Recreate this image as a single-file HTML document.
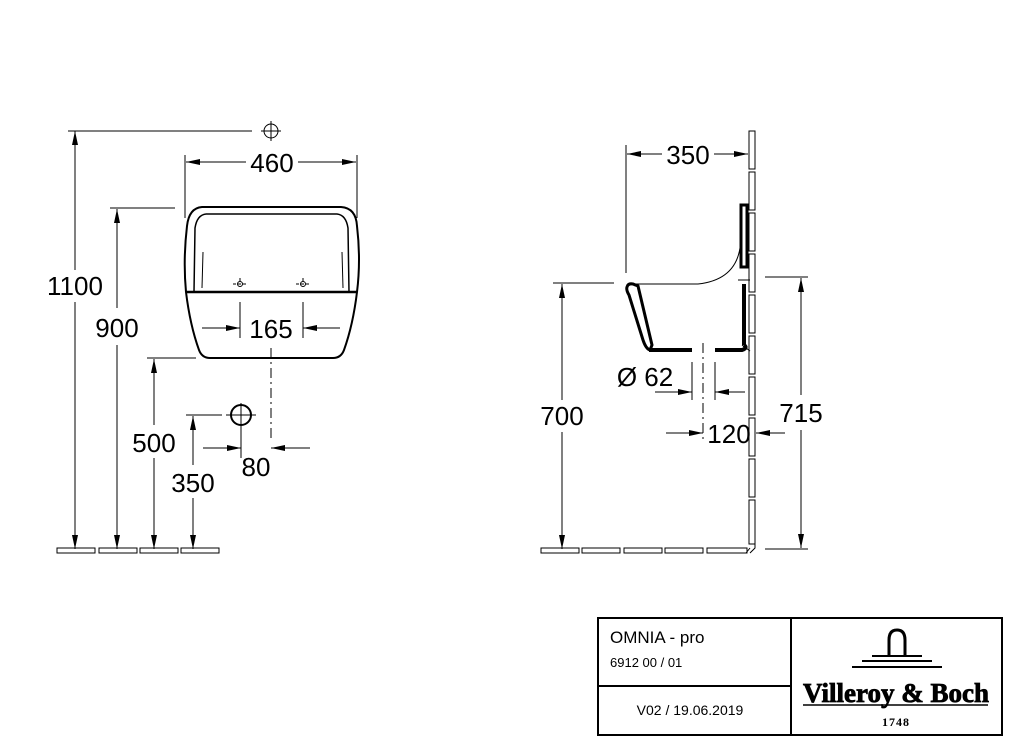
<!DOCTYPE html>
<html><head><meta charset="utf-8"><style>
html,body{margin:0;padding:0;background:#fff;}
svg{display:block;}
text{font-family:"Liberation Sans",Arial,sans-serif;fill:#000;}
</style></head><body>
<svg width="1015" height="749" viewBox="0 0 1015 749" xmlns="http://www.w3.org/2000/svg">
<defs>
<marker id="a" viewBox="0 0 14 6" refX="14" refY="3" markerWidth="14" markerHeight="6" markerUnits="userSpaceOnUse" orient="auto"><path d="M0,0 L14,3 L0,6 z" fill="#000"/></marker>
</defs>
<g stroke="#000" stroke-width="1" fill="none">
<!-- LEFT VIEW -->
<line x1="68" y1="131" x2="252" y2="131"/>
<circle cx="271" cy="131" r="7"/><line x1="261" y1="131" x2="281" y2="131"/><line x1="271" y1="121" x2="271" y2="141"/>
<line x1="75" y1="270" x2="75" y2="131" marker-end="url(#a)"/>
<line x1="75" y1="302" x2="75" y2="549" marker-end="url(#a)"/>
<!-- 460 -->
<line x1="185" y1="155" x2="185" y2="218"/><line x1="357" y1="155" x2="357" y2="218"/>
<line x1="246" y1="162" x2="186" y2="162" marker-end="url(#a)"/>
<line x1="298" y1="162" x2="356" y2="162" marker-end="url(#a)"/>
<!-- urinal front -->
<path d="M202,207 L341,207 Q356,208 357,226 Q361,260 357,292 Q353,325 344,350 Q341,358 333,358 L210,358 Q202,358 199,350 Q190,325 186,292 Q183,260 187,226 Q189,208 202,207 Z" stroke-width="2"/>
<path d="M206,214 L337,214 Q346,215 348,228 L349,292 M194,292 L195,228 Q197,215 206,214" stroke-width="1.5"/>
<line x1="203" y1="252" x2="202" y2="288"/><line x1="342" y1="252" x2="343" y2="288"/>
<line x1="186" y1="292" x2="357" y2="292" stroke-width="2.5"/>
<circle cx="240" cy="284" r="2.5"/><line x1="233" y1="284" x2="247" y2="284" stroke-dasharray="3,2"/><line x1="240" y1="278" x2="240" y2="281"/>
<circle cx="303" cy="284" r="2.5"/><line x1="296" y1="284" x2="310" y2="284" stroke-dasharray="3,2"/><line x1="303" y1="278" x2="303" y2="281"/>
<!-- 165 -->
<line x1="240" y1="302" x2="240" y2="338"/><line x1="303" y1="302" x2="303" y2="338"/>
<line x1="202" y1="328" x2="240" y2="328" marker-end="url(#a)"/>
<line x1="340" y1="328" x2="303" y2="328" marker-end="url(#a)"/>
<line x1="271" y1="348" x2="271" y2="440" stroke-dasharray="10,4,2,4"/>
<!-- 900 -->
<line x1="110" y1="208" x2="175" y2="208"/>
<line x1="117" y1="308" x2="117" y2="209" marker-end="url(#a)"/>
<line x1="117" y1="345" x2="117" y2="549" marker-end="url(#a)"/>
<!-- 500 -->
<line x1="147" y1="358" x2="196" y2="358"/>
<line x1="154" y1="425" x2="154" y2="359" marker-end="url(#a)"/>
<line x1="154" y1="458" x2="154" y2="549" marker-end="url(#a)"/>
<!-- 350 -->
<line x1="186" y1="415" x2="222" y2="415"/><line x1="226" y1="415" x2="256" y2="415"/>
<circle cx="241" cy="415" r="10" stroke-width="2"/><line x1="241" y1="403" x2="241" y2="428"/>
<line x1="193" y1="465" x2="193" y2="416" marker-end="url(#a)"/>
<line x1="193" y1="498" x2="193" y2="549" marker-end="url(#a)"/>
<!-- 80 -->
<line x1="241" y1="428" x2="241" y2="458"/>
<line x1="203" y1="448" x2="241" y2="448" marker-end="url(#a)"/>
<line x1="310" y1="448" x2="271" y2="448" marker-end="url(#a)"/>
<!-- floor tiles left -->
<rect x="57" y="548" width="38" height="5"/><rect x="99" y="548" width="38" height="5"/><rect x="140" y="548" width="38" height="5"/><rect x="181" y="548" width="38" height="5"/>

<!-- RIGHT VIEW -->
<rect x="749" y="131" width="6" height="38"/><rect x="749" y="172" width="6" height="38"/><rect x="749" y="213" width="6" height="38"/><rect x="749" y="254" width="6" height="38"/><rect x="749" y="295" width="6" height="38"/><rect x="749" y="336" width="6" height="38"/><rect x="749" y="377" width="6" height="38"/><rect x="749" y="418" width="6" height="38"/><rect x="749" y="459" width="6" height="38"/><rect x="749" y="500" width="6" height="44"/>
<path d="M755,544 L755,548 L750,553 M750,548 L746,553"/>
<rect x="541" y="548" width="38" height="5"/><rect x="582" y="548" width="38" height="5"/><rect x="624" y="548" width="38" height="5"/><rect x="665" y="548" width="38" height="5"/><rect x="707" y="548" width="40" height="5"/>
<!-- 350 -->
<line x1="626" y1="145" x2="626" y2="273"/>
<line x1="662" y1="154" x2="627" y2="154" marker-end="url(#a)"/>
<line x1="714" y1="154" x2="748" y2="154" marker-end="url(#a)"/>
<!-- urinal side -->
<rect x="741" y="205" width="6" height="62" stroke-width="3"/>
<line x1="744" y1="284" x2="744" y2="345" stroke-width="4"/>
<line x1="738" y1="280" x2="750" y2="280"/>
<path d="M634,284 L698,284 Q735,280 740,248"/>
<path d="M627,287 Q628,283 633,284 L638,286 L652,345 L650,350 Q646,349 643,340 L629,295 Q626,290 627,287 Z" stroke-width="3"/>
<path d="M649,350 L692,350 M715,350 L742,350 Q748,348 744,345" stroke-width="4"/>
<path d="M742,345 L750,351" />
<!-- 700 -->
<line x1="553" y1="283" x2="614" y2="283"/>
<line x1="562" y1="400" x2="562" y2="284" marker-end="url(#a)"/>
<line x1="562" y1="432" x2="562" y2="549" marker-end="url(#a)"/>
<!-- 715 -->
<line x1="765" y1="277" x2="808" y2="277"/><line x1="765" y1="549" x2="808" y2="549"/>
<line x1="801" y1="395" x2="801" y2="278" marker-end="url(#a)"/>
<line x1="801" y1="430" x2="801" y2="548" marker-end="url(#a)"/>
<!-- Ø62 -->
<line x1="692" y1="362" x2="692" y2="400"/><line x1="715" y1="362" x2="715" y2="400"/>
<line x1="655" y1="392" x2="692" y2="392" marker-end="url(#a)"/>
<line x1="745" y1="392" x2="715" y2="392" marker-end="url(#a)"/>
<line x1="703" y1="343" x2="703" y2="440" stroke-dasharray="10,4,2,4"/>
<!-- 120 -->
<line x1="666" y1="433" x2="703" y2="433" marker-end="url(#a)"/>
<line x1="785" y1="433" x2="756" y2="433" marker-end="url(#a)"/>

<!-- TITLE BLOCK -->
<rect x="598" y="618" width="404" height="117" stroke-width="2"/>
<line x1="791" y1="618" x2="791" y2="735" stroke-width="2"/>
<line x1="598" y1="686" x2="791" y2="686" stroke-width="2"/>
<path d="M889,655 L889,640 Q889,630 897,630 Q905,630 905,640 L905,655" stroke-width="3"/>
<line x1="872" y1="656" x2="922" y2="656" stroke-width="2"/>
<line x1="862" y1="661" x2="932" y2="661" stroke-width="2"/>
<line x1="852" y1="667" x2="942" y2="667" stroke-width="2"/>
<line x1="803" y1="705" x2="988" y2="705" stroke-width="1.5"/>
</g>
<g font-size="26" text-anchor="middle">
<text x="75" y="295">1100</text>
<text x="272" y="172">460</text>
<text x="271" y="338">165</text>
<text x="117" y="337">900</text>
<text x="154" y="452">500</text>
<text x="193" y="492">350</text>
<text x="256" y="476">80</text>
<text x="688" y="164">350</text>
<text x="562" y="425">700</text>
<text x="801" y="422">715</text>
<text x="645" y="386">Ø 62</text>
<text x="729" y="443">120</text>
</g>
<text x="610" y="643" font-size="17">OMNIA - pro</text>
<text x="610" y="667" font-size="13">6912 00 / 01</text>
<text x="690" y="715" font-size="14" text-anchor="middle">V02 / 19.06.2019</text>
<text x="896" y="702" font-size="27" font-weight="bold" text-anchor="middle" textLength="186" lengthAdjust="spacingAndGlyphs" style="font-family:'Liberation Serif',serif" stroke="#000" stroke-width="0.8">Villeroy &amp; Boch</text>
<text x="896" y="726" font-size="12" font-weight="bold" text-anchor="middle" style="font-family:'Liberation Serif',serif" letter-spacing="1">1748</text>
</svg>
</body></html>
